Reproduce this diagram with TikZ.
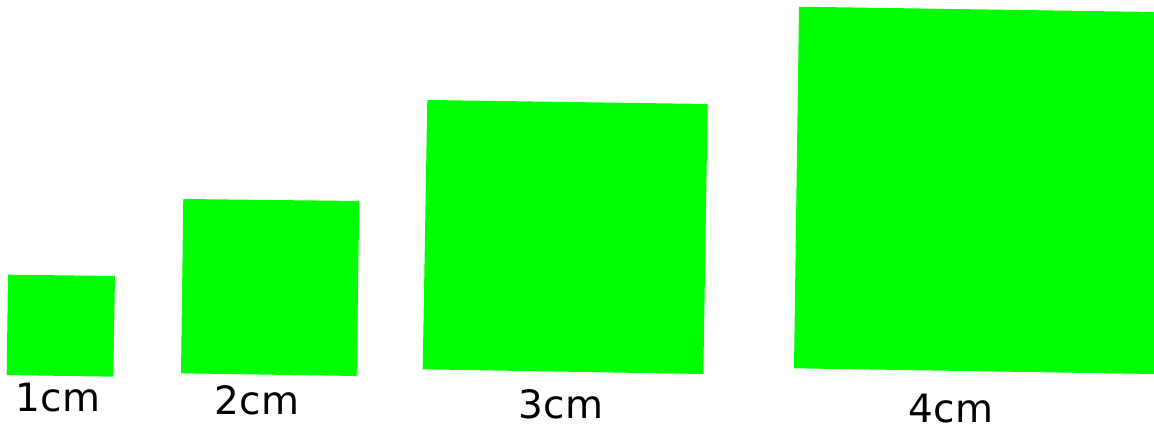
\documentclass[tikz,border=0pt]{standalone}
\usepackage{fontspec}
\setmainfont{DejaVu Sans}
\definecolor{sqgreen}{HTML}{00FF00}
\begin{document}
\begin{tikzpicture}[x=1pt,y=-1pt,
  sq/.style={fill=sqgreen,draw=none},
  lbl/.style={anchor=base,inner sep=0pt,font=\fontsize{39}{46}\selectfont}]
\useasboundingbox (0,0) rectangle (1154,427);
\fill[sq] (8,274.7) -- (115,276) -- (113.3,376.7) -- (6.7,375) -- cycle;
\fill[sq] (183.3,199) -- (359.3,201) -- (356.7,376) -- (181,373.3) -- cycle;
\fill[sq] (427.3,100) -- (707.7,104) -- (703.3,374) -- (422.7,369.3) -- cycle;
\fill[sq] (799,6.7) -- (1154,12) -- (1154,374) -- (794,368.3) -- cycle;
\node[lbl] (l1) at (58,412) {1cm};
\node[lbl] (l2) at (257,414) {2cm};
\node[lbl] (l3) at (561,418) {3cm};
\node[lbl] (l4) at (951,423) {4cm};
\end{tikzpicture}
\end{document}
